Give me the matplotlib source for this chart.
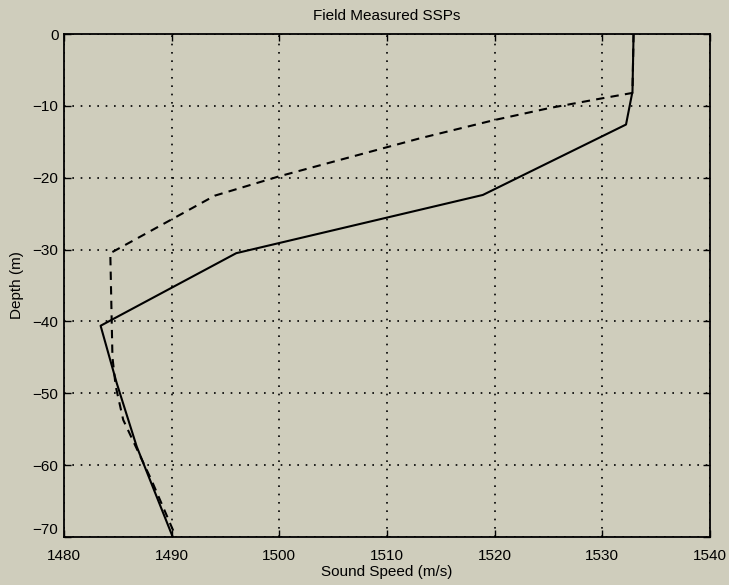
import numpy as np
import matplotlib.pyplot as plt

# Sound speed profiles (speed in m/s, depth in m)
solid_speed = [1532.9, 1532.8, 1532.2, 1518.9, 1496.0, 1483.4, 1484.9, 1486.75, 1490.1]
solid_depth = [0.0, -8.0, -12.6, -22.4, -30.5, -40.6, -48.6, -57.4, -70.0]

dashed_speed = [1532.9, 1532.8, 1529.8, 1525.1, 1519.9, 1513.1, 1500.0, 1494.0,
                1484.3, 1484.5, 1484.8, 1485.5, 1488.1, 1490.4]
dashed_depth = [0.0, -8.2, -9.0, -10.3, -12.0, -14.5, -19.8, -22.5,
                -30.5, -45.0, -49.0, -53.7, -62.0, -70.0]

xticks = np.arange(1480, 1541, 10)
yticks = np.arange(-70, 1, 10)

bg = '#cfcdbc'
plt.rcParams['font.family'] = ['Liberation Sans', 'DejaVu Sans']

fig = plt.figure(figsize=(7.29, 5.85), dpi=100, facecolor=bg)
ax = fig.add_axes([64 / 729, 1 - 537 / 585, (710 - 64) / 729, (537 - 34) / 585])
ax.set_facecolor(bg)

ax.plot(dashed_speed, dashed_depth, 'k--', lw=1.5, dashes=(4, 3))
ax.plot(solid_speed, solid_depth, 'k-', lw=1.5)

ax.set_xlim(1480, 1540)
ax.set_ylim(-70, 0)
ax.set_xticks(xticks)
ax.set_yticks(yticks)
ax.set_yticklabels([f'\u2212{-v}' if v < 0 else str(v) for v in yticks])
ax.grid(True, color='k', linestyle=(0, (1, 4)), linewidth=1.2)
ax.tick_params(direction='in', top=True, right=True, length=5, width=1,
               labelsize=11)
ax.tick_params(axis='x', pad=9)
ax.tick_params(axis='y', pad=4)
# lift the bottom y label a little, as in the original, so it clears "1480"
ax.get_yticklabels()[0].set_verticalalignment('bottom')
for s in ax.spines.values():
    s.set_linewidth(1.3)

ax.set_title('Field Measured SSPs', fontsize=11, pad=10)
ax.set_xlabel('Sound Speed (m/s)', fontsize=11, labelpad=1)
ax.set_ylabel('Depth (m)', fontsize=11, labelpad=6)

fig.savefig('out.png', dpi=100, facecolor=bg)
